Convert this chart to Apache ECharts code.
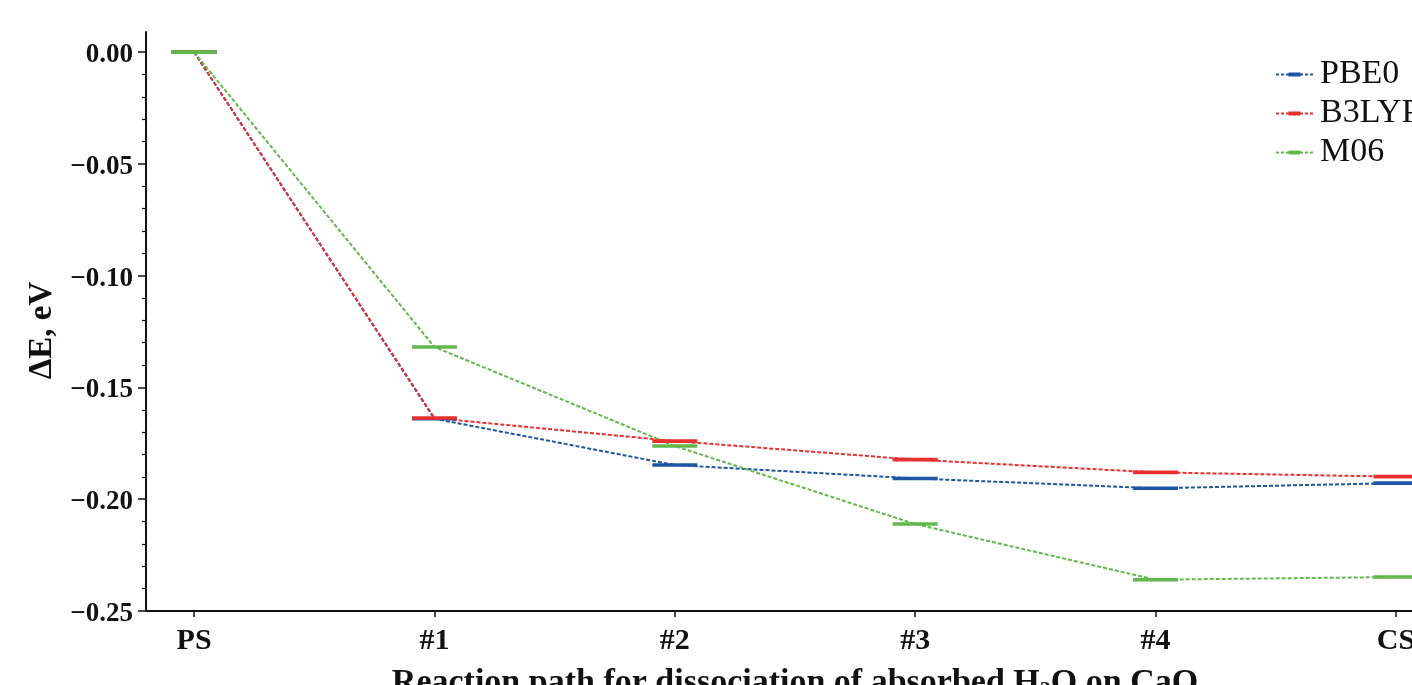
<!DOCTYPE html>
<html>
<head>
<meta charset="utf-8">
<script src="https://cdn.jsdelivr.net/npm/echarts@6/dist/echarts.min.js"></script>
<style>
  html, body { margin: 0; padding: 0; background: #fff; }
  #chart { width: 1412px; height: 685px; }
</style>
</head>
<body>
<div id="chart"></div>
<script>
// reaction path stages
const stages = ["PS", "#1", "#2", "#3", "#4", "CS"];
// relative energies, eV
const pbe0 = [0, -0.1640, -0.1847, -0.1907, -0.1951, -0.1928];
const b3lyp = [0, -0.1637, -0.1740, -0.1823, -0.1880, -0.1899];
const m06 = [0, -0.1319, -0.1762, -0.2111, -0.2360, -0.2348];
const yTicks = [-0.25, -0.20, -0.15, -0.10, -0.05, 0.00];

// legend icon: dotted line with a short level bar in the middle
const legendIcon = "path://M0,1.5L3,1.5L3,3.5L0,3.5Z M5,1.5L8,1.5L8,3.5L5,3.5Z M10,1.5L12.5,1.5L12.5,3.5L10,3.5Z"
    + " M12.5,0.5L24.5,0.5L24.5,4.5L12.5,4.5Z"
    + " M24.5,1.5L27,1.5L27,3.5L24.5,3.5Z M29,1.5L32,1.5L32,3.5L29,3.5Z M34,1.5L37,1.5L37,3.5L34,3.5Z"
    + " M0,0L0.01,0L0.01,0.01Z M37,5L36.99,5L36.99,4.99Z";

const chart = echarts.init(document.getElementById("chart"));

const toPoints = (arr) => arr.map((v, i) => [i, v]);

const makeSeries = (name, values, color) => ({
    name,
    type: "line",
    data: toPoints(values),
    symbol: "rect",
    symbolSize: [45, 3.6],
    showSymbol: true,
    itemStyle: { color },
    lineStyle: { color, width: 2, type: [4, 2] },
    emphasis: { disabled: true },
});

chart.setOption({
    animation: false,
    backgroundColor: "#fff",
    grid: { left: 146, right: -32, top: 32, bottom: 74, outerBoundsMode: "none", containLabel: false },
    legend: {
        orient: "vertical",
        left: 1276,
        top: 55,
        padding: 0,
        itemWidth: 37,
        itemHeight: 5,
        itemGap: 0,
        icon: legendIcon,
        textStyle: {
            fontFamily: "Liberation Serif",
            fontSize: 34,
            color: "#111",
            lineHeight: 39,
            padding: [0, 0, 0, 2],
        },
    },
    xAxis: {
        type: "value",
        min: -0.2,
        max: 5.2,
        name: "{a|Reaction path for dissociation of absorbed H}{s|2}{a|O on CaO}",
        nameLocation: "middle",
        nameGap: 54,
        nameTextStyle: {
            rich: {
                a: { fontFamily: "Liberation Serif", fontWeight: "bold", fontSize: 34, color: "#111" },
                s: { fontFamily: "Liberation Serif", fontWeight: "bold", fontSize: 22, color: "#111", padding: [14, 0, 0, 0] },
            },
        },
        axisLine: { onZero: false, lineStyle: { color: "#111", width: 2 } },
        axisTick: { show: true, length: 6, lineStyle: { color: "#111", width: 1.5 }, customValues: stages.map((s, i) => i) },
        axisLabel: {
            customValues: stages.map((s, i) => i),
            formatter: (v) => stages[Math.round(v)],
            fontFamily: "Liberation Serif",
            fontWeight: "bold",
            fontSize: 30,
            color: "#111",
            margin: 15,
        },
        splitLine: { show: false },
    },
    yAxis: {
        type: "value",
        min: -0.25,
        max: 0.009,
        interval: 0.05,
        name: "ΔE, eV",
        nameLocation: "middle",
        nameGap: 71,
        nameTextStyle: {
            fontFamily: "Liberation Serif",
            fontWeight: "bold",
            fontSize: 33,
            color: "#111",
            padding: [0, 18, 0, 0],
        },
        axisLine: { show: true, onZero: false, lineStyle: { color: "#111", width: 2 } },
        axisTick: { show: true, length: 8, lineStyle: { color: "#111", width: 1.5 }, customValues: yTicks },
        minorTick: { show: true, splitNumber: 5, length: 4, lineStyle: { color: "#111", width: 1.2 } },
        axisLabel: {
            customValues: yTicks,
            formatter: (v) => "{v|" + v.toFixed(2).replace("-", "\u2212") + "}",
            margin: 13,
            rich: {
                v: {
                    fontFamily: "Liberation Serif",
                    fontWeight: "bold",
                    fontSize: 27,
                    color: "#111",
                    padding: [6, 0, 0, 0],
                },
            },
        },
        splitLine: { show: false },
    },
    series: [
        makeSeries("PBE0", pbe0, "#1f55a5"),
        makeSeries("B3LYP", b3lyp, "#e8312f"),
        makeSeries("M06", m06, "#61b94b"),
    ],
});
</script>
</body>
</html>
